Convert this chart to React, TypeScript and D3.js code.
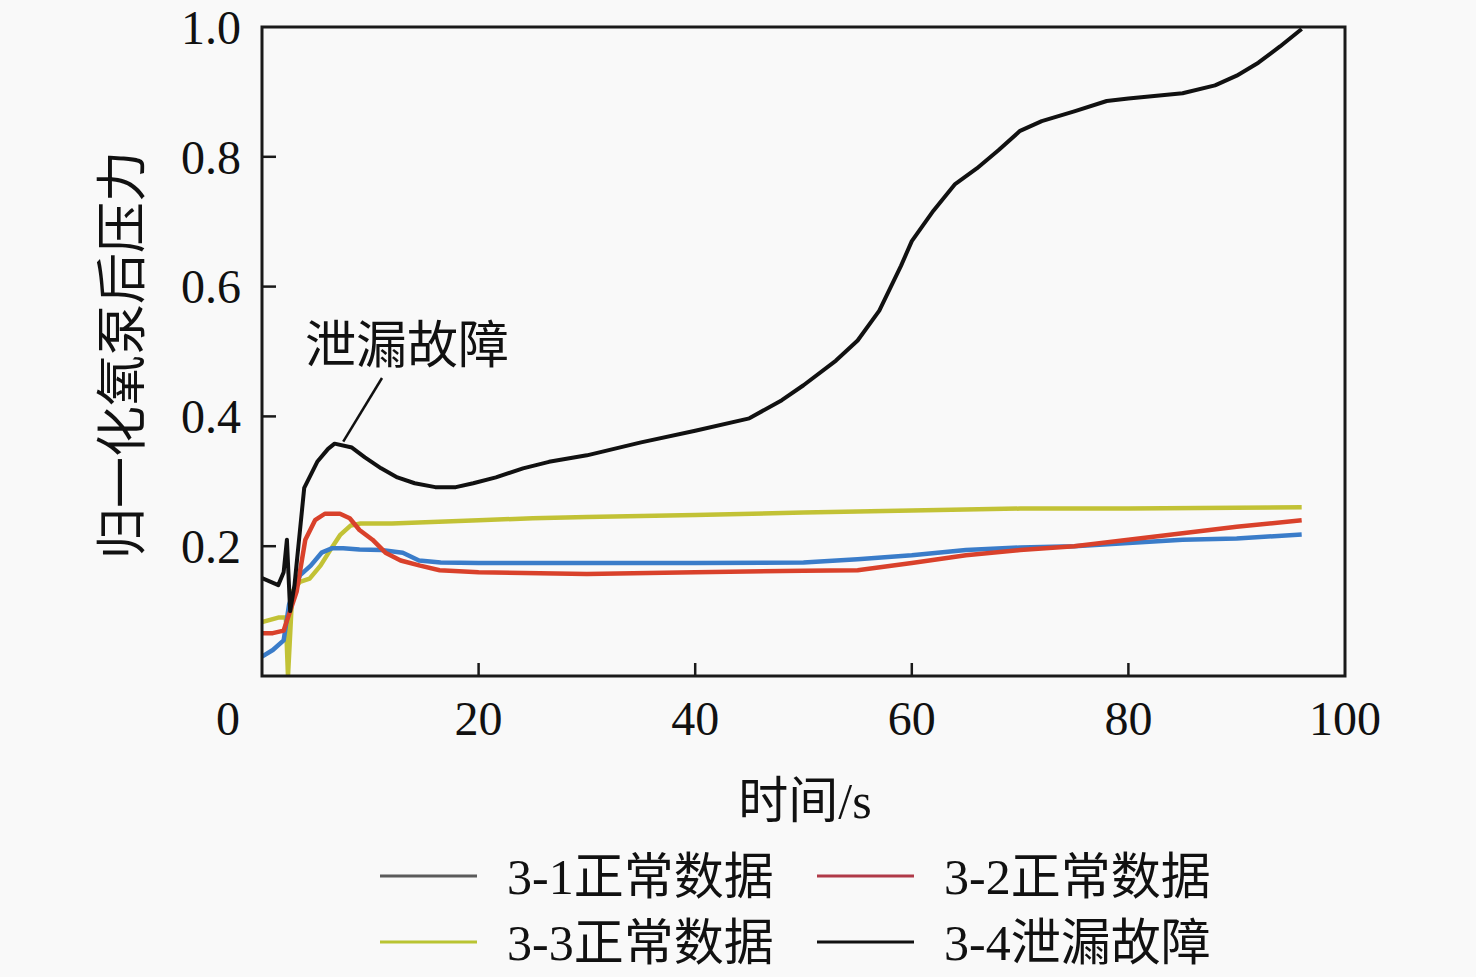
import React from 'react';
import * as d3 from 'd3';

// time axis (s) and normalised pressure
const t31 = [0, 1, 2, 2.5, 3.5, 4.5, 5.5, 6.5, 7.5, 9, 11, 13, 14.5, 16.5, 20, 30, 40, 50, 55, 60, 65, 70, 75, 80, 85, 90, 96];
const v31 = [0.03, 0.04, 0.055, 0.11, 0.155, 0.17, 0.19, 0.197, 0.197, 0.195, 0.194, 0.19, 0.178, 0.175, 0.174, 0.174, 0.174, 0.175, 0.18, 0.186, 0.194, 0.198, 0.2, 0.205, 0.21, 0.212, 0.218];

const t32 = [0, 1, 2, 2.6, 3.2, 4, 4.9, 5.8, 7.2, 8.1, 9, 10.2, 11.4, 12.8, 14.6, 16.4, 20, 30, 40, 50, 55, 60, 65, 70, 75, 80, 85, 90, 96];
const v32 = [0.066, 0.066, 0.07, 0.1, 0.13, 0.21, 0.24, 0.25, 0.25, 0.243, 0.225, 0.21, 0.19, 0.178, 0.17, 0.163, 0.16, 0.157, 0.16, 0.162, 0.163, 0.174, 0.186, 0.194, 0.2, 0.21, 0.22, 0.23, 0.24];

const t33 = [0, 1.5, 2.2, 2.4, 2.8, 3.5, 4.4, 5.4, 6.3, 7.2, 8.2, 9.1, 12, 20, 25, 30, 40, 50, 60, 70, 80, 96];
const v33 = [0.083, 0.09, 0.09, 0.0, 0.13, 0.145, 0.15, 0.17, 0.194, 0.217, 0.232, 0.235, 0.235, 0.24, 0.243, 0.245, 0.248, 0.252, 0.255, 0.258, 0.258, 0.26];

const t34 = [0, 1.5, 2, 2.3, 2.6, 3, 3.9, 5.1, 6.1, 6.7, 8.3, 9.5, 11, 12.5, 14.1, 16, 17.9, 19.5, 21.6, 24.1, 26.5, 30, 35, 40, 45, 48, 50, 53, 55, 57, 59, 60, 62, 64, 66, 68, 70, 72, 75, 78, 80, 85, 88, 90, 92, 94, 96];
const v34 = [0.151, 0.14, 0.16, 0.21, 0.1, 0.14, 0.29, 0.33, 0.35, 0.358, 0.352, 0.337, 0.32, 0.306, 0.297, 0.291, 0.291, 0.297, 0.306, 0.32, 0.33, 0.34, 0.36, 0.378, 0.397, 0.425, 0.448, 0.486, 0.517, 0.563, 0.632, 0.67, 0.717, 0.758, 0.782, 0.81, 0.84, 0.855, 0.87, 0.886, 0.89, 0.898, 0.91, 0.925, 0.945, 0.97, 0.997];

const xTicks = [0, 20, 40, 60, 80, 100];
const yTicks = [0.2, 0.4, 0.6, 0.8, 1.0];

const series = [
  { code: '3-1', label: '正常数据', t: t31, v: v31, color: '#3a7cc9', legendColor: '#5b5b5b', width: 4.5 },
  { code: '3-2', label: '正常数据', t: t32, v: v32, color: '#d9412b', legendColor: '#b03a48', width: 4.5 },
  { code: '3-3', label: '正常数据', t: t33, v: v33, color: '#c2c236', legendColor: '#b9c433', width: 4.5 },
  { code: '3-4', label: '泄漏故障', t: t34, v: v34, color: '#111111', legendColor: '#111111', width: 4 },
];

const W = 1476;
const H = 977;
const m = { left: 262, right: 1345, top: 27, bottom: 676 };
const serif = '"Liberation Serif", "Times New Roman", serif';
const cjk = '"Noto Sans CJK SC", sans-serif';

export default function App() {
  const x = d3.scaleLinear().domain([0, 100]).range([m.left, m.right]);
  const y = d3.scaleLinear().domain([0, 1]).range([m.bottom, m.top]);
  const line = d3.line<[number, number]>().x(d => x(d[0])).y(d => y(d[1]));

  // coloured ones first, black on top
  const drawOrder = [2, 0, 1, 3];

  return (
    <svg width={W} height={H} style={{ position: 'absolute', left: 0, top: 0, background: '#f9f9f9' }}>
      <rect x={0} y={0} width={W} height={H} fill="#f9f9f9" />
      <defs>
        <clipPath id="plot">
          <rect x={m.left} y={m.top - 2} width={m.right - m.left} height={m.bottom - m.top + 2} />
        </clipPath>
      </defs>

      <g clipPath="url(#plot)">
        {drawOrder.map(i => {
          const s = series[i];
          const pts = s.t.map((tt, k) => [tt, s.v[k]] as [number, number]);
          return (
            <path key={s.code} d={line(pts) || ''} fill="none" stroke={s.color}
              strokeWidth={s.width} strokeLinejoin="round" />
          );
        })}
      </g>

      {/* frame */}
      <rect x={m.left} y={m.top} width={m.right - m.left} height={m.bottom - m.top}
        fill="none" stroke="#1a1a1a" strokeWidth={3} />

      {/* y ticks */}
      {yTicks.map(v => (
        <g key={'y' + v}>
          {v < 1 && <line x1={m.left} x2={m.left + 14} y1={y(v)} y2={y(v)} stroke="#1a1a1a" strokeWidth={2.5} />}
          <text x={241} y={y(v)} dy="0.35em" textAnchor="end" fontFamily={serif} fontSize={48} fill="#111">
            {v.toFixed(1)}
          </text>
        </g>
      ))}

      {/* x ticks */}
      {xTicks.map(v => (
        <g key={'x' + v}>
          {v > 0 && v < 100 && <line x1={x(v)} x2={x(v)} y1={m.bottom} y2={m.bottom - 13} stroke="#1a1a1a" strokeWidth={2.5} />}
          <text x={v === 0 ? 228 : x(v)} y={718} dy="0.35em" textAnchor="middle" fontFamily={serif} fontSize={48} fill="#111">
            {v}
          </text>
        </g>
      ))}

      {/* axis titles */}
      <text x={805} y={800} dy="0.35em" textAnchor="middle" fontSize={50} fill="#111">
        <tspan fontFamily={cjk}>时间</tspan><tspan fontFamily={serif}>/s</tspan>
      </text>
      <text transform="translate(122,355) rotate(-90)" textAnchor="middle" dy="0.35em" fontFamily={cjk} fontSize={51} fill="#111">
        归一化氧泵后压力
      </text>

      {/* annotation */}
      <line x1={x(7.5)} y1={y(0.358) - 2} x2={382} y2={378} stroke="#111" strokeWidth={2.5} />
      <text x={305} y={345} dy="0.35em" fontFamily={cjk} fontSize={51} fill="#111">泄漏故障</text>

      {/* legend */}
      {series.map((s, i) => {
        const col = i % 2;
        const row = Math.floor(i / 2);
        const lx = col === 0 ? 380 : 817;
        const ly = row === 0 ? 876 : 942;
        return (
          <g key={'lg' + s.code}>
            <line x1={lx} x2={lx + 97} y1={ly} y2={ly} stroke={s.legendColor} strokeWidth={3} />
            <text x={lx + 127} y={ly} dy="0.35em" fontSize={50} fill="#111">
              <tspan fontFamily={serif}>{s.code}</tspan><tspan fontFamily={cjk}>{s.label}</tspan>
            </text>
          </g>
        );
      })}
    </svg>
  );
}
